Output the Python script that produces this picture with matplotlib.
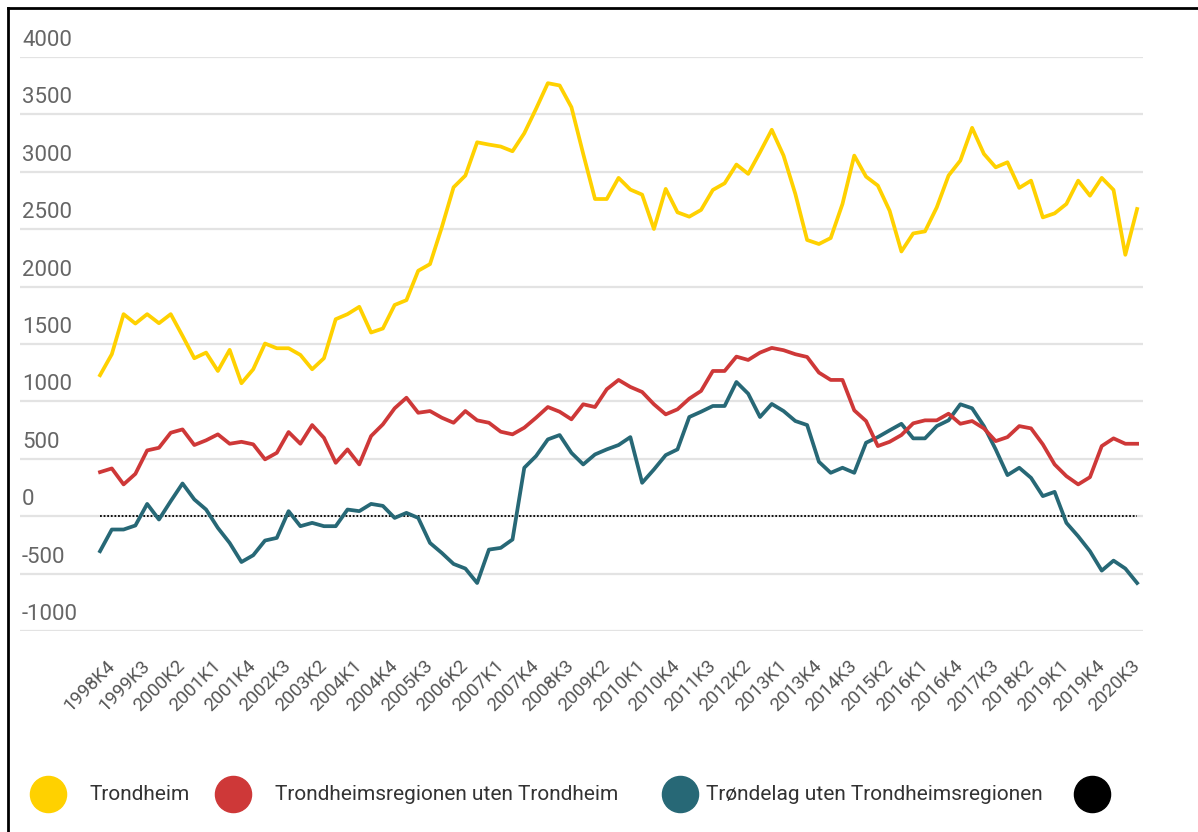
import matplotlib
matplotlib.use("Agg")
import matplotlib.pyplot as plt
from matplotlib.lines import Line2D

plt.rcParams["font.family"] = ["Roboto", "DejaVu Sans"]

# Quarters 1998K3 .. 2020K3
quarters = [f"{y}K{q}" for y in range(1998, 2021) for q in range(1, 5)]
quarters = quarters[quarters.index("1998K3"):quarters.index("2020K3") + 1]

trondheim = [
    1228, 1411, 1760, 1678, 1760, 1681, 1760, 1571, 1376, 1425,
    1265, 1449, 1158, 1280, 1504, 1463, 1463, 1405, 1280, 1376,
    1716, 1760, 1824, 1600, 1635, 1840, 1882, 2138, 2196, 2516,
    2865, 2967, 3257, 3237, 3220, 3179, 3336, 3549, 3772, 3752,
    3563, 3156, 2763, 2763, 2947, 2845, 2801, 2502, 2851, 2647,
    2609, 2668, 2842, 2900, 3063, 2982, 3170, 3366, 3141, 2807,
    2406, 2371, 2423, 2720, 3141, 2958, 2880, 2661, 2306, 2463,
    2481, 2690, 2967, 3098, 3383, 3156, 3039, 3083, 2860, 2923,
    2603, 2638, 2720, 2923, 2792, 2947, 2842, 2277, 2676,
]

region_ex_trondheim = [
    384, 416, 277, 369, 573, 596, 727, 756, 620, 661,
    713, 631, 648, 626, 495, 552, 733, 631, 794, 683,
    465, 582, 451, 698, 800, 940, 1032, 901, 916, 858,
    814, 916, 835, 814, 736, 713, 771, 858, 951, 910,
    844, 975, 951, 1106, 1187, 1126, 1082, 975, 887, 931,
    1024, 1091, 1265, 1265, 1390, 1361, 1425, 1466, 1446, 1411,
    1387, 1251, 1187, 1187, 922, 829, 611, 648, 707, 809,
    835, 835, 893, 805, 829, 765, 654, 689, 785, 765,
    626, 451, 349, 277, 340, 611, 678, 631, 631,
]

trondelag_ex_region = [
    -305, -116, -116, -81, 107, -29, 131, 285, 146, 58,
    -102, -233, -399, -340, -212, -189, 44, -87, -58, -87,
    -87, 58, 44, 107, 90, -15, 29, -15, -233, -320,
    -416, -456, -582, -291, -276, -203, 422, 524, 669, 707,
    552, 451, 538, 582, 620, 689, 291, 407, 532, 582,
    864, 910, 960, 960, 1169, 1067, 864, 978, 916, 829,
    794, 474, 378, 422, 378, 640, 689, 748, 805, 678,
    678, 785, 835, 975, 940, 785, 582, 358, 422, 334,
    175, 212, -58, -175, -305, -474, -387, -456, -582,
]

zero_line = [0] * len(quarters)

series_names = [
    "Trondheim",
    "Trondheimsregionen uten Trondheim",
    "Trøndelag uten Trondheimsregionen",
    "",
]
colors = ["#FFD100", "#CE3838", "#276876", "#000000"]

y_ticks = [-1000, -500, 0, 500, 1000, 1500, 2000, 2500, 3000, 3500, 4000]

fig = plt.figure(figsize=(11.98, 8.32), dpi=100)
ax = fig.add_axes([20 / 1198, 1 - 631 / 832, 1123 / 1198, 574 / 832])

x = list(range(len(quarters)))
ax.plot(x, zero_line, color=colors[3], linestyle=(0, (1, 1)), linewidth=1.3, zorder=2)
ax.plot(x, trondelag_ex_region, color=colors[2], linewidth=2.7, zorder=3)
ax.plot(x, region_ex_trondheim, color=colors[1], linewidth=2.7, zorder=3)
ax.plot(x, trondheim, color=colors[0], linewidth=2.7, zorder=3)

ax.set_xlim(-6.79, 88.5)
ax.set_ylim(-1000, 4000)

for v in y_ticks:
    ax.axhline(v, color="#e3e3e3", linewidth=1.6, zorder=1)
    ax.annotate(str(v), xy=(0, v), xycoords=("axes fraction", "data"),
                xytext=(2, 6), textcoords="offset pixels",
                ha="left", va="bottom", fontsize=16, color="#666666")

ax.set_yticks([])
tick_idx = list(range(1, len(quarters), 3))
ax.set_xticks(tick_idx)
ax.set_xticklabels([quarters[i] for i in tick_idx], rotation=45, ha="right",
                   va="center", rotation_mode="anchor", fontsize=13.5, color="#555555")
ax.tick_params(axis="x", length=0, pad=23)

for s in ax.spines.values():
    s.set_visible(False)

# legend row
leg_y = 1 - 794 / 832
circle_x = [48, 233, 680, 1092]
text_x = [90, 275, 706, None]
for cx, tx, col, name in zip(circle_x, text_x, colors, series_names):
    fig.add_artist(Line2D([cx / 1198], [leg_y], marker="o", markersize=26,
                          color=col, linestyle="none", transform=fig.transFigure))
    if tx is not None:
        fig.text(tx / 1198, leg_y, name, ha="left", va="center",
                 fontsize=15, color="#333333")

# screenshot frame (top and left)
fig.add_artist(Line2D([8 / 1198, 1], [1 - 8 / 832, 1 - 8 / 832], color="black",
                      linewidth=2, transform=fig.transFigure))
fig.add_artist(Line2D([8 / 1198, 8 / 1198], [0, 1 - 8 / 832], color="black",
                      linewidth=2, transform=fig.transFigure))

fig.savefig("out.png", dpi=100)
